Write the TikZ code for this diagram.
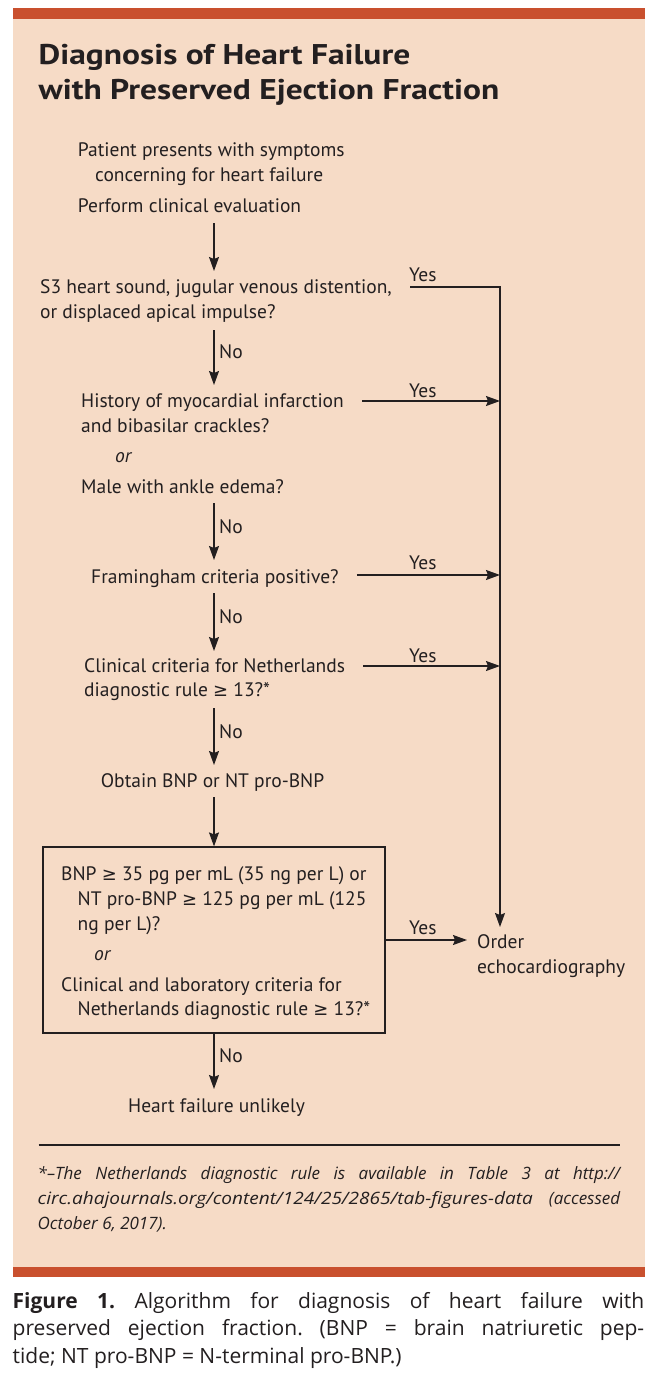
\documentclass[tikz,border=0pt]{standalone}
\usepackage{fontspec}
\usepackage{graphicx}
\setmainfont{PT Sans}
\newfontfamily\ttlfont{PT Sans}[FakeStretch=1.175]
\newfontfamily\capfont{Open Sans}
\newfontfamily\symf{DejaVu Sans}[Scale=0.92]
\newcommand\mygeq{{\symf ≥}}
\usetikzlibrary{arrows.meta}
\definecolor{panel}{HTML}{F6DBC6}
\definecolor{bar}{HTML}{C9502E}
\definecolor{ink}{HTML}{231F20}
\frenchspacing
\begin{document}
\begin{tikzpicture}[x=1pt,y=-1pt,
  txt/.style={anchor=base west, inner sep=0pt, font=\fontsize{19.5}{23}\selectfont, text=ink},
  ttl/.style={anchor=base west, inner sep=0pt, font=\ttlfont\fontsize{28.5}{34}\selectfont\bfseries, text=ink},
  arr/.style={draw=ink, line width=1.2pt, line join=miter, -{Stealth[length=14pt,width=10pt,inset=2pt]}},
  ln/.style={draw=ink, line width=1.2pt},
  fn/.style={anchor=base west, inner sep=0pt, font=\capfont\fontsize{17}{20}\selectfont\itshape\frenchspacing, text=ink},
  capst/.style={anchor=base west, inner sep=0pt, font=\capfont\fontsize{21}{24}\selectfont\frenchspacing, text=ink},
  boxst/.style={draw=ink, line width=1.2pt, minimum width=342pt, minimum height=186pt, inner sep=0pt},
]
\path[use as bounding box, fill=white] (0,0) rectangle (656,1378);
\fill[panel] (12.5,19) rectangle (645,1267);
\fill[bar] (12.5,8) rectangle (645,19);
\fill[bar] (12.5,1267) rectangle (645,1277);

\coordinate (spine) at (214,0);
\coordinate (rail) at (500,0);

% title
\node[ttl] (t1) at (38.5,65) {Diagnosis of Heart Failure};
\node[ttl] (t2) at (38.5,100) {with Preserved Ejection Fraction};

% flow text
\node[txt] (p1) at (77.7,157) {Patient presents with symptoms};
\node[txt] (p2) at (95,181.5) {concerning for heart failure};
\node[txt] (p3) at (77.7,212) {Perform clinical evaluation};
\node[txt] (s3a) at (40,293) {S3 heart sound, jugular venous distention,};
\node[txt] (s3b) at (40,318) {or displaced apical impulse?};
\node[txt] (mia) at (81,407) {History of myocardial infarction};
\node[txt] (mib) at (81,432) {and bibasilar crackles?};
\node[txt,font=\fontsize{19.5}{23}\selectfont\itshape] (or1) at (115,462) {or};
\node[txt] (mic) at (81,493) {Male with ankle edema?};
\node[txt] (fr) at (91,583) {Framingham criteria positive?};
\node[txt] (nla) at (84,672) {Clinical criteria for Netherlands};
\node[txt] (nlb) at (84,696) {diagnostic rule \mygeq{} 13?*};
\node[txt] (bnp) at (100.7,787) {Obtain BNP or NT pro-BNP};

\node[boxst] (box) at (214,940) {};
\node[txt] (bx1) at (61,880) {BNP \mygeq{} 35 pg per mL (35 ng per L) or};
\node[txt] (bx2) at (77.5,905) {NT pro-BNP \mygeq{} 125 pg per mL (125};
\node[txt] (bx3) at (77.5,930) {ng per L)?};
\node[txt,font=\fontsize{19.5}{23}\selectfont\itshape] (bx4) at (94,960) {or};
\node[txt] (bx5) at (61,991) {Clinical and laboratory criteria for};
\node[txt] (bx6) at (77.5,1015) {Netherlands diagnostic rule \mygeq{} 13?*};

\node[txt] (hf) at (128,1112) {Heart failure unlikely};
\node[txt] (ord1) at (477,948) {Order};
\node[txt] (ord2) at (477,973) {echocardiography};

% labels
\node[txt] (y1) at (409,281) {Yes};
\node[txt] (y2) at (409,397) {Yes};
\node[txt] (y3) at (409,569) {Yes};
\node[txt] (y4) at (409,662) {Yes};
\node[txt] (y5) at (409,934) {Yes};
\node[txt] (n1) at (219,358) {No};
\node[txt] (n2) at (219,533) {No};
\node[txt] (n3) at (219,623) {No};
\node[txt] (n4) at (219,738) {No};
\node[txt] (n5) at (219,1062) {No};

% vertical arrows
\draw[arr] ([yshift=-11pt]p3.base -| spine) -- ([yshift=22pt]s3a.base -| spine);
\draw[arr] ([yshift=-12pt]s3b.base -| spine) -- ([yshift=22pt]mia.base -| spine);
\draw[arr] ([yshift=-10pt]mic.base -| spine) -- ([yshift=23pt]fr.base -| spine);
\draw[arr] ([yshift=-10pt]fr.base -| spine) -- ([yshift=21pt]nla.base -| spine);
\draw[arr] ([yshift=-12pt]nlb.base -| spine) -- ([yshift=22pt]bnp.base -| spine);
\draw[arr] ([yshift=-10pt]bnp.base -| spine) -- (box.north);
\draw[arr] (box.south) -- ([yshift=23pt]hf.base -| spine);

% yes arrows
\draw[arr] ([xshift=18pt,yshift=6pt]s3a.base east) -- ([yshift=6pt]s3a.base east -| rail) -- ([yshift=21pt]ord1.base -| rail);
\draw[arr] ([xshift=18pt,yshift=6pt]mia.base east) -- ([yshift=6pt]mia.base east -| rail);
\draw[arr] ([xshift=18pt,yshift=8pt]fr.base east) -- ([yshift=8pt]fr.base east -| rail);
\draw[arr] ([xshift=18pt,yshift=6pt]nla.base east) -- ([yshift=6pt]nla.base east -| rail);
\draw[arr] (box.east) -- ([xshift=-10pt]box.east -| ord1.west);

% footnote
\draw[ln] (38.5,1145) -- (620,1145);
\node[fn] (fn1) at (37.5,1179) {\makebox[582.5pt][s]{*–The Netherlands diagnostic rule is available in Table 3 at http://}};
\node[fn] (fn2) at (37.5,1204) {\makebox[582.5pt][s]{\scalebox{1.12}[1]{circ.ahajournals.org/content/124/25/2865/tab-figures-data} (accessed}};
\node[fn] (fn3) at (37.5,1229) {October 6, 2017).};

% caption
\node[capst] (c1) at (12.5,1308) {\makebox[631.5pt][s]{\textbf{Figure 1.} Algorithm for diagnosis of heart failure with}};
\node[capst] (c2) at (12.5,1335.5) {\makebox[631.5pt][s]{preserved ejection fraction. (BNP = brain natriuretic pep-}};
\node[capst] (c3) at (12.5,1363) {tide; NT pro-BNP = N-terminal pro-BNP.)};
\end{tikzpicture}
\end{document}
